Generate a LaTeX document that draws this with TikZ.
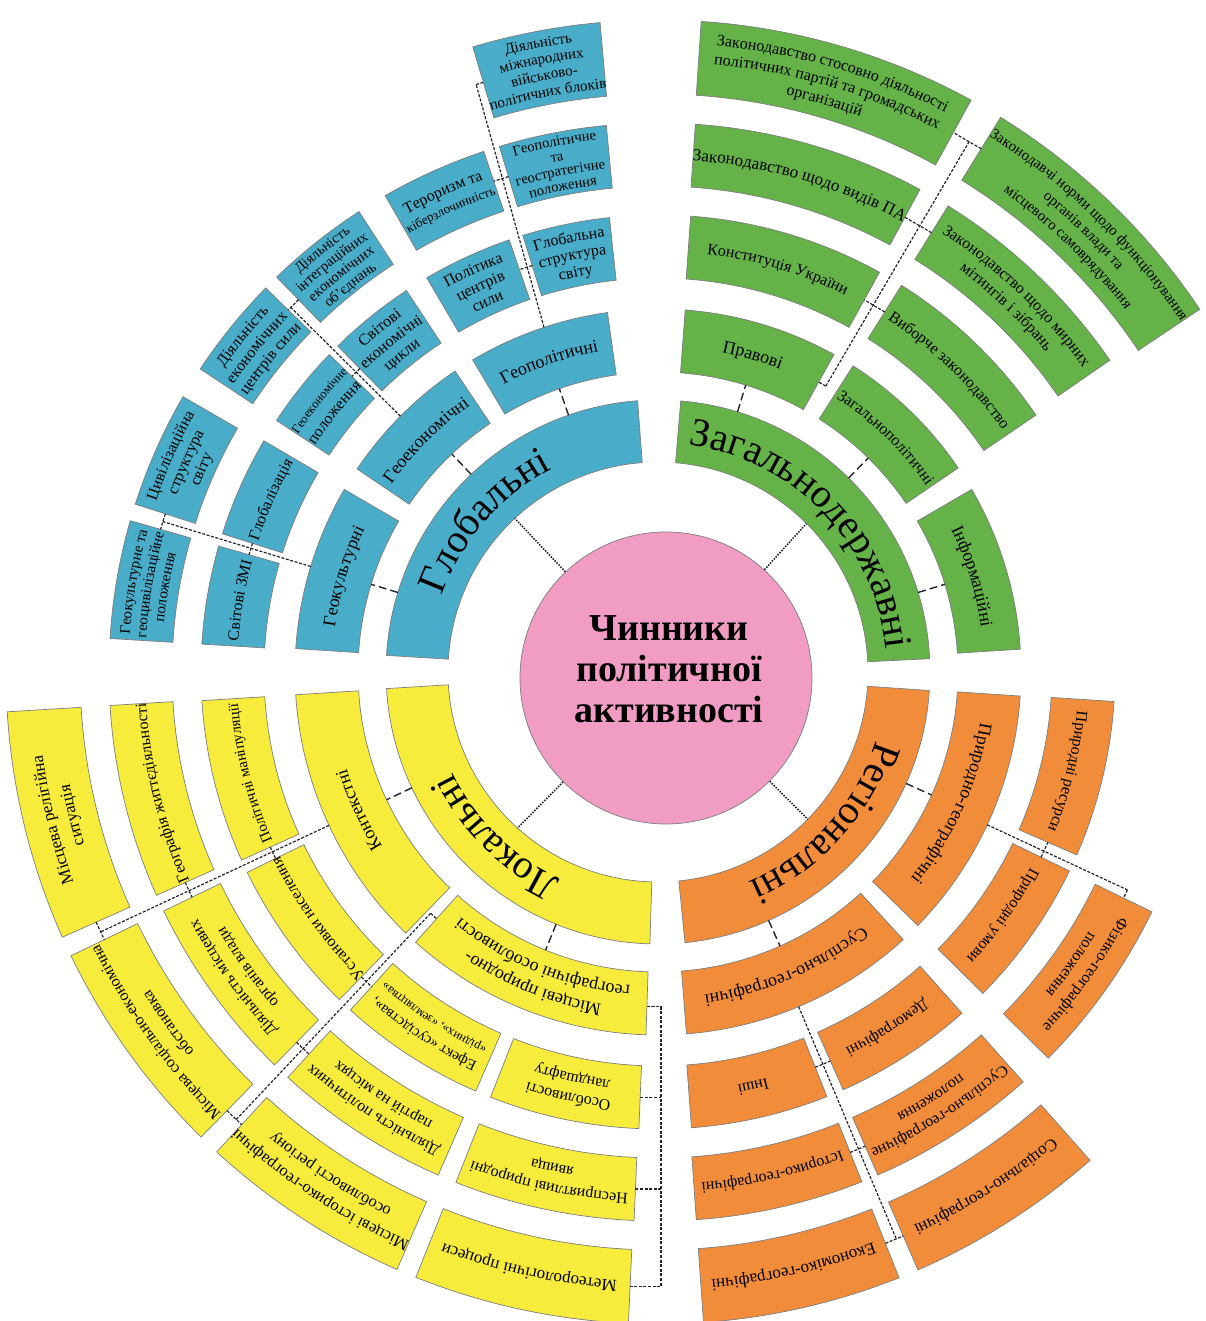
\documentclass[tikz,border=0pt]{standalone}
\usepackage{fontspec}
\setmainfont{Liberation Serif}
\usetikzlibrary{decorations.text}

\definecolor{cBlue}{RGB}{73,172,200}
\definecolor{cGreen}{RGB}{100,178,72}
\definecolor{cYellow}{RGB}{247,236,60}
\definecolor{cOrange}{RGB}{241,141,58}
\definecolor{cPink}{RGB}{241,156,195}
\definecolor{cEdge}{RGB}{125,125,125}
\definecolor{cLine}{RGB}{35,35,50}

\newcommand\fsz[1]{\fontsize{#1}{#1}\selectfont}
\newcommand\rAi{210}\newcommand\rAo{272}
\newcommand\rBi{300}\newcommand\rBo{363}
\newcommand\rCi{394}\newcommand\rCo{457}
\newcommand\rDi{486}\newcommand\rDo{549}
\newcommand\rEi{578}\newcommand\rEo{652}

\tikzset{
  blockline/.style={draw=cEdge, line width=0.7pt},
  hubline/.style={draw=cLine, line width=1.6pt, dash pattern=on 1.5pt off 1.3pt},
  link/.style={draw=cLine, line width=1.4pt, dash pattern=on 8pt off 4pt},
  trunk/.style={draw=cLine, line width=1.2pt, dash pattern=on 3pt off 1.6pt},
}

% annular block: colour, angle1, angle2, r-inner, r-outer
\newcommand\blk[5]{%
  \filldraw[blockline, fill=#1] ({#2}:#4) arc[start angle={#2}, end angle={#3}, radius=#4]
    -- ({#3}:#5) arc[start angle={#3}, end angle={#2}, radius=#5] -- cycle;}
% one line of curved text: mid angle, line-centre radius, size, text
\newcommand\tln[4]{%
  \pgfmathsetmacro\tlnb{#2-0.3*#3}%
  \path[decorate, decoration={text along path, text align=center, text={|\fsz{#3}|#4}}]
    ({#1+90}:\tlnb) arc[start angle={#1+90}, end angle={#1-90}, radius=\tlnb];}

\begin{document}
\begin{tikzpicture}[x=1pt,y=1pt]
\useasboundingbox (-658,-649) rectangle (548,672);
\clip (-658,-649) rectangle (548,672);

% ---------------- BLUE ----------------
\blk{cBlue}{94.3}{176.5}{\rAi}{\rAo}
\blk{cBlue}{98}{120.7}{\rBi}{\rBo}
\blk{cBlue}{124}{146}{\rBi}{\rBo}
\blk{cBlue}{149.8}{176.3}{\rBi}{\rBo}
\blk{cBlue}{96.1}{107.2}{\rCi}{\rCo}
\blk{cBlue}{109}{120.4}{\rCi}{\rCo}
\blk{cBlue}{123.4}{134.5}{\rCi}{\rCo}
\blk{cBlue}{136}{146.6}{\rCi}{\rCo}
\blk{cBlue}{149.6}{162.4}{\rCi}{\rCo}
\blk{cBlue}{164}{176.5}{\rCi}{\rCo}
\blk{cBlue}{95.4}{106.8}{\rDi}{\rDo}
\blk{cBlue}{108.5}{119.8}{\rDi}{\rDo}
\blk{cBlue}{123}{134}{\rDi}{\rDo}
\blk{cBlue}{135.6}{146.5}{\rDi}{\rDo}
\blk{cBlue}{149.9}{162.2}{\rDi}{\rDo}
\blk{cBlue}{164}{176.5}{\rDi}{\rDo}
\blk{cBlue}{95.1}{106.5}{\rEi}{\rEo}

% ---------------- GREEN ----------------
\blk{cGreen}{2.8}{85.2}{\rAi}{\rAo}
\blk{cGreen}{61}{85.7}{\rBi}{\rBo}
\blk{cGreen}{34.2}{57.5}{\rBi}{\rBo}
\blk{cGreen}{3.6}{30.2}{\rBi}{\rBo}
\blk{cGreen}{61}{85.9}{\rCi}{\rCo}
\blk{cGreen}{34.2}{57.8}{\rCi}{\rCo}
\blk{cGreen}{61.5}{86.1}{\rDi}{\rDo}
\blk{cGreen}{34.6}{58.1}{\rDi}{\rDo}
\blk{cGreen}{61.3}{86.2}{\rEi}{\rEo}
\blk{cGreen}{33.8}{58.3}{\rEi}{\rEo}

% ---------------- YELLOW ----------------
\blk{cYellow}{183.5}{268.3}{\rAi}{\rAo}
\blk{cYellow}{183.6}{226}{\rBi}{\rBo}
\blk{cYellow}{228.1}{268.1}{\rBi}{\rBo}
\blk{cYellow}{183.6}{204.3}{\rCi}{\rCo}
\blk{cYellow}{206}{225.8}{\rCi}{\rCo}
\blk{cYellow}{227.7}{246.5}{\rCi}{\rCo}
\blk{cYellow}{248.5}{267.6}{\rCi}{\rCo}
\blk{cYellow}{183.5}{204}{\rDi}{\rDo}
\blk{cYellow}{205.8}{225.7}{\rDi}{\rDo}
\blk{cYellow}{227.6}{246.4}{\rDi}{\rDo}
\blk{cYellow}{248.4}{267.5}{\rDi}{\rDo}
\blk{cYellow}{183.5}{204}{\rEi}{\rEo}
\blk{cYellow}{205.8}{225.5}{\rEi}{\rEo}
\blk{cYellow}{227.4}{246.4}{\rEi}{\rEo}
\blk{cYellow}{248.2}{267.4}{\rEi}{\rEo}

% ---------------- ORANGE ----------------
\blk{cOrange}{-84.3}{-3.9}{\rAi}{\rAo}
\blk{cOrange}{-85.5}{-47.5}{\rBi}{\rBo}
\blk{cOrange}{-44.3}{-3.8}{\rBi}{\rBo}
\blk{cOrange}{-85.8}{-68.3}{\rCi}{\rCo}
\blk{cOrange}{-66.1}{-48.3}{\rCi}{\rCo}
\blk{cOrange}{-44.7}{-25.8}{\rCi}{\rCo}
\blk{cOrange}{-23.6}{-3.7}{\rCi}{\rCo}
\blk{cOrange}{-86}{-68.2}{\rDi}{\rDo}
\blk{cOrange}{-66.4}{-48.3}{\rDi}{\rDo}
\blk{cOrange}{-44.7}{-25.9}{\rDi}{\rDo}
\blk{cOrange}{-86}{-68.3}{\rEi}{\rEo}
\blk{cOrange}{-66.5}{-48.5}{\rEi}{\rEo}

% ---------------- centre ----------------
\node[circle, draw=cEdge, line width=0.7pt, fill=cPink, minimum size=292pt, inner sep=0pt] (hub) at (8,-6) {};
\node[align=center, font=\fsz{38}\bfseries, inner sep=0pt] (title) at (11,3)
      {Чинники\\[3pt]політичної\\[3pt]активності};

% ---------------- connectors: hub to rings ----------------
\coordinate (hB) at (133:\rAi);   \draw[hubline] (hub) -- (hB);
\coordinate (hG) at (45:\rAi);    \draw[hubline] (hub) -- (hG);
\coordinate (hY) at (228:\rAi);   \draw[hubline] (hub) -- (hY);
\coordinate (hO) at (-44.5:\rAi); \draw[hubline] (hub) -- (hO);

% ---------------- connectors: level 1 to level 2 ----------------
\foreach \a/\n in {163/b1,133.4/b2,109.2/b3,73/g1,45.5/g2,17/g3,205.2/y1,248/y2,-24.2/o1,-66/o2}{
  \coordinate (\n s) at (\a:\rAo); \coordinate (\n e) at (\a:\rBi);
  \draw[link] (\n s) -- (\n e);
}

% ---------------- trunks ----------------
% blue: Геокультурні
\coordinate (bk1s) at (163.1:\rBo); \coordinate (bk1e) at (163.1:517.5);
\draw[trunk] (bk1s) -- (bk1e);
\coordinate (bk1a) at (162.4:425.5); \coordinate (bk1b) at (164:425.5); \draw[trunk] (bk1a) -- (bk1b);
\coordinate (bk1c) at (162.2:517.5); \coordinate (bk1d) at (164:517.5); \draw[trunk] (bk1c) -- (bk1d);
% blue: Геоекономічні
\coordinate (bk2s) at (135.2:\rBo); \coordinate (bk2e) at (135.2:517.5);
\draw[trunk] (bk2s) -- (bk2e);
\coordinate (bk2a) at (134.5:425.5); \coordinate (bk2b) at (136:425.5); \draw[trunk] (bk2a) -- (bk2b);
\coordinate (bk2c) at (134:517.5); \coordinate (bk2d) at (135.6:517.5); \draw[trunk] (bk2c) -- (bk2d);
% blue: Геополітичні
\coordinate (bk3s) at (108.3:\rBo); \coordinate (bk3e) at (107.2:615);
\draw[trunk] (bk3s) -- (bk3e);
\coordinate (bk3a) at (107.2:425.5); \coordinate (bk3b) at (109:425.5); \draw[trunk] (bk3a) -- (bk3b);
\coordinate (bk3c) at (106.8:517.5); \coordinate (bk3d) at (108.5:517.5); \draw[trunk] (bk3c) -- (bk3d);
\coordinate (bk3f) at (106.5:615); \draw[trunk] (bk3f) -- (bk3e);
% green: Правові
\coordinate (gk1s) at (59.6:331.5); \coordinate (gk1e) at (59.6:615);
\draw[trunk] (gk1s) -- (gk1e);
\coordinate (gk1p) at (61:331.5); \draw[trunk] (gk1s) -- (gk1p);
\coordinate (gk1a) at (57.8:425.5); \coordinate (gk1b) at (61:425.5); \draw[trunk] (gk1a) -- (gk1b);
\coordinate (gk1c) at (58.1:517.5); \coordinate (gk1d) at (61.5:517.5); \draw[trunk] (gk1c) -- (gk1d);
\coordinate (gk1f) at (58.3:615); \coordinate (gk1g) at (61.3:615); \draw[trunk] (gk1f) -- (gk1g);
% yellow: Контекстні
\coordinate (yk1s) at (205:\rBo); \coordinate (yk1e) at (205:615);
\draw[trunk] (yk1s) -- (yk1e);
\coordinate (yk1a) at (204.3:425.5); \coordinate (yk1b) at (206:425.5); \draw[trunk] (yk1a) -- (yk1b);
\coordinate (yk1c) at (204:517.5); \coordinate (yk1d) at (205.8:517.5); \draw[trunk] (yk1c) -- (yk1d);
\coordinate (yk1f) at (204:615); \coordinate (yk1g) at (205.8:615); \draw[trunk] (yk1f) -- (yk1g);
% yellow: природно-географічні (left trunk)
\coordinate (yk2s) at (226.7:331.5); \coordinate (yk2e) at (226.7:615);
\draw[trunk] (yk2s) -- (yk2e);
\coordinate (yk2p) at (228.1:331.5); \draw[trunk] (yk2s) -- (yk2p);
\coordinate (yk2a) at (225.8:425.5); \coordinate (yk2b) at (227.7:425.5); \draw[trunk] (yk2a) -- (yk2b);
\coordinate (yk2c) at (225.7:517.5); \coordinate (yk2d) at (227.6:517.5); \draw[trunk] (yk2c) -- (yk2d);
\coordinate (yk2f) at (225.5:615); \coordinate (yk2g) at (227.4:615); \draw[trunk] (yk2f) -- (yk2g);
% yellow: природно-географічні (vertical bracket)
\coordinate (vx) at (3,0);
\coordinate (yv2) at (268.1:335); \coordinate (yv3) at (267.6:425.5);
\coordinate (yv4) at (267.5:517.5); \coordinate (yv5) at (267.4:615);
\draw[trunk] (yv2) -- (vx |- yv2) -- (vx |- yv5) -- (yv5);
\draw[trunk] (yv3) -- (vx |- yv3);
\draw[trunk] (yv4) -- (vx |- yv4);
% orange: Природно-географічні
\coordinate (ok1s) at (-24.9:\rBo); \coordinate (ok1e) at (-24.9:517.5);
\draw[trunk] (ok1s) -- (ok1e);
\coordinate (ok1a) at (-25.8:425.5); \coordinate (ok1b) at (-23.6:425.5); \draw[trunk] (ok1a) -- (ok1b);
\coordinate (ok1c) at (-25.9:517.5); \draw[trunk] (ok1e) -- (ok1c);
% orange: Суспільно-географічні
\coordinate (ok2s) at (-67.2:\rBo); \coordinate (ok2e) at (-67.2:615);
\draw[trunk] (ok2s) -- (ok2e);
\coordinate (ok2a) at (-68.3:425.5); \coordinate (ok2b) at (-66.1:425.5); \draw[trunk] (ok2a) -- (ok2b);
\coordinate (ok2c) at (-68.2:517.5); \coordinate (ok2d) at (-66.4:517.5); \draw[trunk] (ok2c) -- (ok2d);
\coordinate (ok2f) at (-68.3:615); \coordinate (ok2g) at (-66.5:615); \draw[trunk] (ok2f) -- (ok2g);

% ---------------- texts: BLUE ----------------
\tln{139}{241}{40}{Глобальні}
\tln{109.35}{331.5}{18}{Геополітичні}
\tln{135}{331.5}{18}{Геоекономічні}
\tln{163.05}{331.5}{18}{Геокультурні}
\tln{101.65}{443}{16}{Глобальна}
\tln{101.65}{425.5}{16}{структура}
\tln{101.65}{408}{16}{світу}
\tln{114.7}{443}{16}{Політика}
\tln{114.7}{425.5}{16}{центрів}
\tln{114.7}{408}{16}{сили}
\tln{128.95}{443}{16}{Світові}
\tln{128.95}{425.5}{16}{економічні}
\tln{128.95}{408}{16}{цикли}
\tln{141.3}{435}{12.5}{Геоекономічне}
\tln{141.3}{416}{16}{положення}
\tln{156}{425.5}{16}{Глобалізація}
\tln{170.25}{425.5}{16}{Світові ЗМІ}
\tln{101.1}{540}{14.5}{Геополітичне}
\tln{101.1}{525}{14.5}{та}
\tln{101.1}{510}{14.5}{геостратегічне}
\tln{101.1}{495}{14.5}{положення}
\tln{114.15}{527}{16}{Тероризм та}
\tln{114.15}{508}{13}{кіберзлочинність}
\tln{128.5}{540}{14.5}{Діяльність}
\tln{128.5}{525}{14.5}{інтеграційних}
\tln{128.5}{510}{14.5}{економічних}
\tln{128.5}{495}{14.5}{об'єднань}
\tln{141.05}{535}{16}{Діяльність}
\tln{141.05}{517.5}{16}{економічних}
\tln{141.05}{500}{16}{центрів сили}
\tln{156.05}{535}{16}{Цивілізаційна}
\tln{156.05}{517.5}{16}{структура}
\tln{156.05}{500}{16}{світу}
\tln{170.25}{534}{15}{Геокультурне та}
\tln{170.25}{517.5}{15}{геоцивілізаційне}
\tln{170.25}{501}{15}{положення}
\tln{100.8}{640}{15}{Діяльність}
\tln{100.8}{623.5}{15}{міжнародних}
\tln{100.8}{607}{15}{військово-}
\tln{100.8}{590.5}{15}{політичних блоків}

% ---------------- texts: GREEN ----------------
\tln{44}{241}{40}{Загальнодержавні}
\tln{73.35}{331.5}{18}{Правові}
\tln{45.85}{331.5}{16}{Загальнополітичні}
\tln{16.9}{331.5}{18}{Інформаційні}
\tln{73.45}{425.5}{16}{Конституція України}
\tln{46}{425.5}{16}{Виборче законодавство}
\tln{73.8}{517.5}{17}{Законодавство щодо видів ПА}
\tln{46.35}{527.5}{16}{Законодавство щодо мирних}
\tln{46.35}{507.5}{16}{мітингів і зібрань}
\tln{73.75}{634}{16}{Законодавство стосовно діяльності}
\tln{73.75}{615}{16}{політичних партій та громадських}
\tln{73.75}{596}{16}{організацій}
\tln{46.05}{634}{15}{Законодавчі норми щодо функціонування}
\tln{46.05}{615}{15}{органів влади та}
\tln{46.05}{596}{15}{місцевого самоврядування}

% ---------------- texts: YELLOW ----------------
\tln{225.5}{241}{40}{Локальні}
\tln{204.8}{331.5}{18}{Контекстні}
\tln{248.1}{342.5}{18}{Місцеві природно-}
\tln{248.1}{320.5}{18}{географічні особливості}
\tln{193.95}{425.5}{15}{Політичні маніпуляції}
\tln{215.9}{425.5}{16}{Установки населення}
\tln{237.1}{435}{15}{Ефект «сусідства»,}
\tln{237.1}{416}{12.5}{«рідних», «земляцтва»}
\tln{258.05}{435.5}{16}{Особливості}
\tln{258.05}{415.5}{16}{ландшафту}
\tln{193.75}{517.5}{16}{Географія життєдіяльності}
\tln{215.75}{527.5}{16}{Діяльність місцевих}
\tln{215.75}{507.5}{16}{органів влади}
\tln{237}{527.5}{16}{Діяльність політичних}
\tln{237}{507.5}{16}{партій на місцях}
\tln{257.95}{527.5}{16}{Несприятливі природні}
\tln{257.95}{507.5}{16}{явища}
\tln{193.75}{626}{17}{Місцева релігійна}
\tln{193.75}{604}{17}{ситуація}
\tln{215.65}{626}{16}{Місцева соціально-економічна}
\tln{215.65}{604}{16}{обстановка}
\tln{236.9}{626}{16.5}{Місцеві історико-географічні}
\tln{236.9}{604}{16.5}{особливості регіону}
\tln{257.8}{615}{17}{Метеорологічні процеси}

% ---------------- texts: ORANGE ----------------
\tln{-42}{241}{40}{Регіональні}
\tln{-24.05}{331.5}{18}{Природно-географічні}
\tln{-66.5}{331.5}{18}{Суспільно-географічні}
\tln{-13.65}{425.5}{16}{Природні ресурси}
\tln{-35.25}{425.5}{16}{Природні умови}
\tln{-57.2}{425.5}{16}{Демографічні}
\tln{-77.05}{425.5}{16}{Інші}
\tln{-35.3}{527.5}{16}{Фізико-географічне}
\tln{-35.3}{507.5}{16}{положення}
\tln{-57.35}{527.5}{16}{Суспільно-географічне}
\tln{-57.35}{507.5}{16}{положення}
\tln{-77.1}{517.5}{16}{Історико-географічні}
\tln{-57.5}{615}{17}{Соціально-географічні}
\tln{-77.15}{615}{17}{Економіко-географічні}
\end{tikzpicture}
\end{document}
